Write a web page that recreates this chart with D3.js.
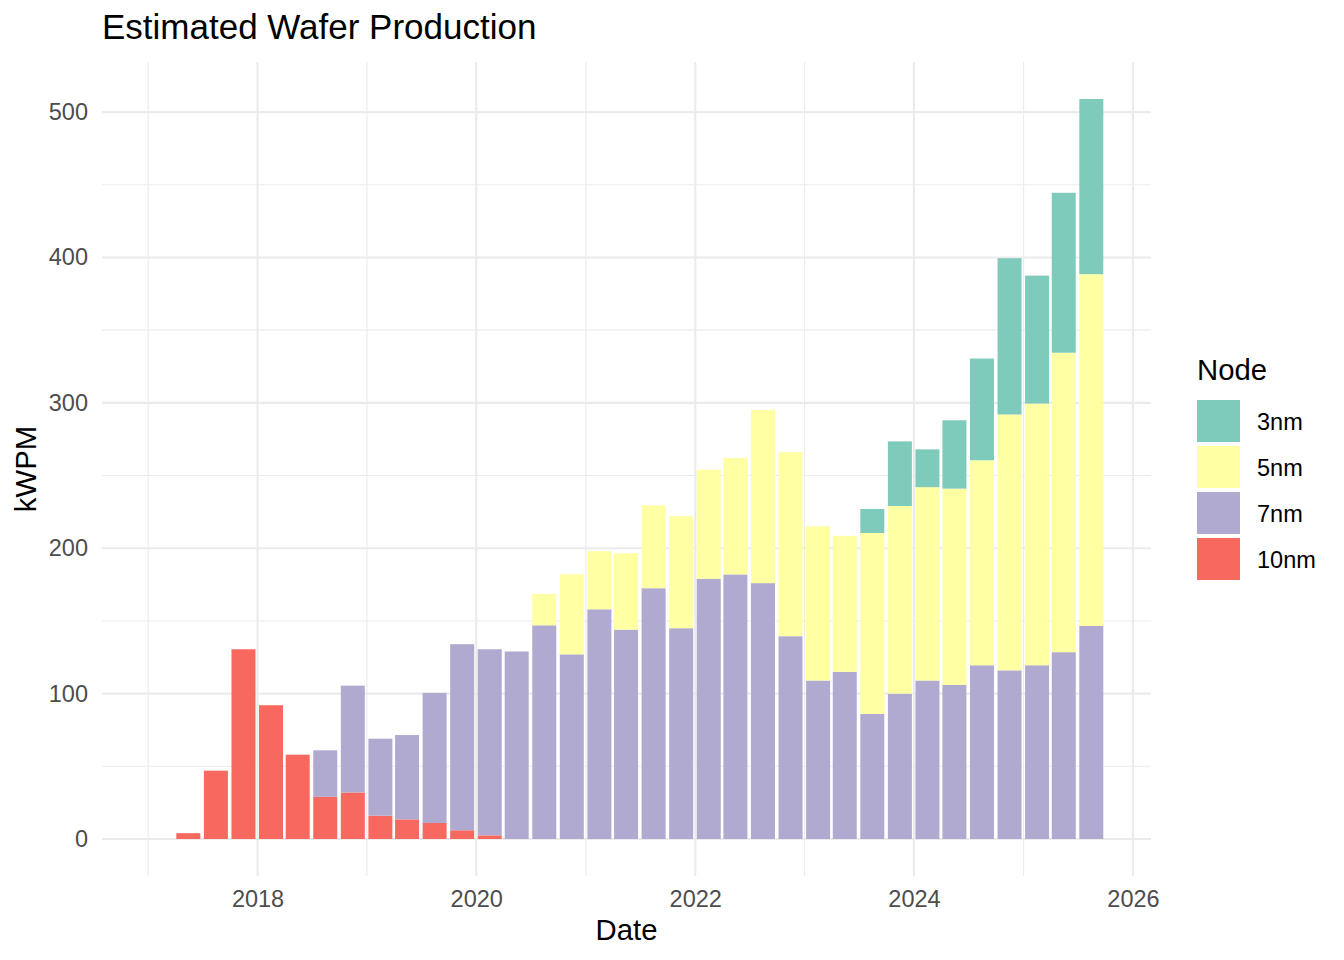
<!DOCTYPE html>
<html>
<head>
<meta charset="utf-8">
<script src="https://cdn.jsdelivr.net/npm/d3@7"></script>
<style>
  body { margin: 0; background: #fff; }
  text { font-family: "Liberation Sans", Arial, Helvetica, sans-serif; }
</style>
</head>
<body>
<svg width="1344" height="960"></svg>
<script>
// quarter midpoints, 2017Q1 .. 2025Q3
const quarters = [
  '2017-02-15','2017-05-15','2017-08-15','2017-11-15',
  '2018-02-15','2018-05-15','2018-08-15','2018-11-15',
  '2019-02-15','2019-05-15','2019-08-15','2019-11-15',
  '2020-02-15','2020-05-15','2020-08-15','2020-11-15',
  '2021-02-15','2021-05-15','2021-08-15','2021-11-15',
  '2022-02-15','2022-05-15','2022-08-15','2022-11-15',
  '2023-02-15','2023-05-15','2023-08-15','2023-11-15',
  '2024-02-15','2024-05-15','2024-08-15','2024-11-15',
  '2025-02-15','2025-05-15','2025-08-15'];

// kWPM per node, one value per quarter
const nm10 = [0, 4, 47, 130.5,  92, 58, 29, 32,  16, 13.5, 11, 6,  2.5, 0, 0, 0,
              0, 0, 0, 0,  0, 0, 0, 0,  0, 0, 0, 0,  0, 0, 0, 0,  0, 0, 0];
const nm7  = [0, 0, 0, 0,  0, 0, 32, 73.5,  53, 58, 89.5, 128,  128, 129, 147, 127,
              158, 144, 172.5, 145,  179, 182, 176, 139.5,  109, 115, 86, 100,
              109, 106, 119.5, 116,  119.5, 128.5, 146.5];
const nm5  = [0, 0, 0, 0,  0, 0, 0, 0,  0, 0, 0, 0,  0, 0, 21.5, 55,
              40, 52.5, 57, 77,  75, 80, 119, 126.5,  106, 93.5, 124.5, 129,
              133, 135, 141, 176,  180, 206, 242];
const nm3  = [0, 0, 0, 0,  0, 0, 0, 0,  0, 0, 0, 0,  0, 0, 0, 0,
              0, 0, 0, 0,  0, 0, 0, 0,  0, 0, 16.5, 44.5,
              26, 47, 70, 107.5,  88, 110, 120.5];

const nodes = ['10nm', '7nm', '5nm', '3nm'];   // stacking order, bottom up
const legendNodes = ['3nm', '5nm', '7nm', '10nm'];
const yTicks = [0, 100, 200, 300, 400, 500];
const yMinor = [50, 150, 250, 350, 450];
const xTicks = [2018, 2020, 2022, 2024, 2026];
const xMinor = [2017, 2019, 2021, 2023, 2025];

const COLORS = {'3nm': '#7fcbbb', '5nm': '#ffffa3', '7nm': '#b0aad0', '10nm': '#f7685e'};
const P = {left: 102, right: 1151, top: 62, bottom: 876};
const GRID = '#ebebeb';

function main(){
    let svg = d3.select('svg');
    let parse = d3.timeParse('%Y-%m-%d');
    let rows = quarters.map((q, i) => ({date: parse(q), '10nm': nm10[i], '7nm': nm7[i],
                                        '5nm': nm5[i], '3nm': nm3[i]}));
    let series = d3.stack().keys(nodes)(rows);

    // ggplot-ish: bar = 90% of the smallest date gap, 5% padding each side
    let barMs = 0.9 * d3.min(d3.pairs(rows, (a, b) => b.date - a.date));
    let lo = d3.min(rows, d => +d.date) - barMs / 2;
    let hi = d3.max(rows, d => +d.date) + barMs / 2;
    let pad = 0.05 * (hi - lo);
    let x = d3.scaleTime().domain([new Date(lo - pad), new Date(hi + pad)])
              .range([P.left, P.right]);
    let ymax = d3.max(series[series.length - 1], d => d[1]);
    let y = d3.scaleLinear().domain([-0.05 * ymax, 1.05 * ymax]).range([P.bottom, P.top]);
    let yearDate = yr => new Date(yr, 0, 1);

    // grid
    let g = svg.append('g');
    g.selectAll('line.ymin').data(yMinor).enter().append('line')
     .attr('x1', P.left).attr('x2', P.right).attr('y1', d => y(d)).attr('y2', d => y(d))
     .attr('stroke', GRID).attr('stroke-width', 1.07);
    g.selectAll('line.xmin').data(xMinor).enter().append('line')
     .attr('y1', P.top).attr('y2', P.bottom).attr('x1', d => x(yearDate(d))).attr('x2', d => x(yearDate(d)))
     .attr('stroke', GRID).attr('stroke-width', 1.07);
    g.selectAll('line.ymaj').data(yTicks).enter().append('line')
     .attr('x1', P.left).attr('x2', P.right).attr('y1', d => y(d)).attr('y2', d => y(d))
     .attr('stroke', GRID).attr('stroke-width', 2.13);
    g.selectAll('line.xmaj').data(xTicks).enter().append('line')
     .attr('y1', P.top).attr('y2', P.bottom).attr('x1', d => x(yearDate(d))).attr('x2', d => x(yearDate(d)))
     .attr('stroke', GRID).attr('stroke-width', 2.13);

    // bars
    let layers = svg.append('g').selectAll('g').data(series).enter().append('g')
                    .attr('fill', d => COLORS[d.key]);
    layers.selectAll('rect').data(d => d.filter(p => p[1] > p[0])).enter().append('rect')
          .attr('x', d => x(new Date(+d.data.date - barMs / 2)))
          .attr('width', d => x(new Date(+d.data.date + barMs / 2)) - x(new Date(+d.data.date - barMs / 2)))
          .attr('y', d => y(d[1]))
          .attr('height', d => y(d[0]) - y(d[1]));

    // axes (labels only, theme_minimal has no ticks or lines)
    let ax = svg.append('g').attr('transform', `translate(0,${P.bottom})`)
                .call(d3.axisBottom(x).tickValues(xTicks.map(yearDate))
                        .tickFormat(d3.timeFormat('%Y')).tickSize(0).tickPadding(14));
    let ay = svg.append('g').attr('transform', `translate(${P.left},0)`)
                .call(d3.axisLeft(y).tickValues(yTicks).tickSize(0).tickPadding(14));
    [ax, ay].forEach(a => {
        a.select('.domain').remove();
        a.selectAll('text').attr('font-size', 23.5).attr('fill', '#4d4d4d')
         .style('font-family', '"Liberation Sans", Arial, sans-serif');
    });

    svg.append('text').attr('x', P.left).attr('y', 39).attr('font-size', 35)
       .attr('fill', '#000').text('Estimated Wafer Production');
    svg.append('text').attr('x', (P.left + P.right) / 2).attr('y', 940)
       .attr('text-anchor', 'middle').attr('font-size', 29.3).text('Date');
    svg.append('text').attr('transform', `translate(36,${(P.top + P.bottom) / 2}) rotate(-90)`)
       .attr('text-anchor', 'middle').attr('font-size', 29.3).text('kWPM');

    // legend
    let lg = svg.append('g').attr('transform', 'translate(1197,0)');
    lg.append('text').attr('x', 0).attr('y', 380).attr('font-size', 29.3).text('Node');
    let items = lg.selectAll('g').data(legendNodes).enter().append('g')
                  .attr('transform', (d, i) => `translate(0,${400 + i * 46})`);
    items.append('rect').attr('width', 43).attr('height', 42).attr('fill', d => COLORS[d]);
    items.append('text').attr('x', 60).attr('y', 22).attr('dy', '0.35em')
         .attr('font-size', 23.5).text(d => d);
}

main();
</script>
</body>
</html>
